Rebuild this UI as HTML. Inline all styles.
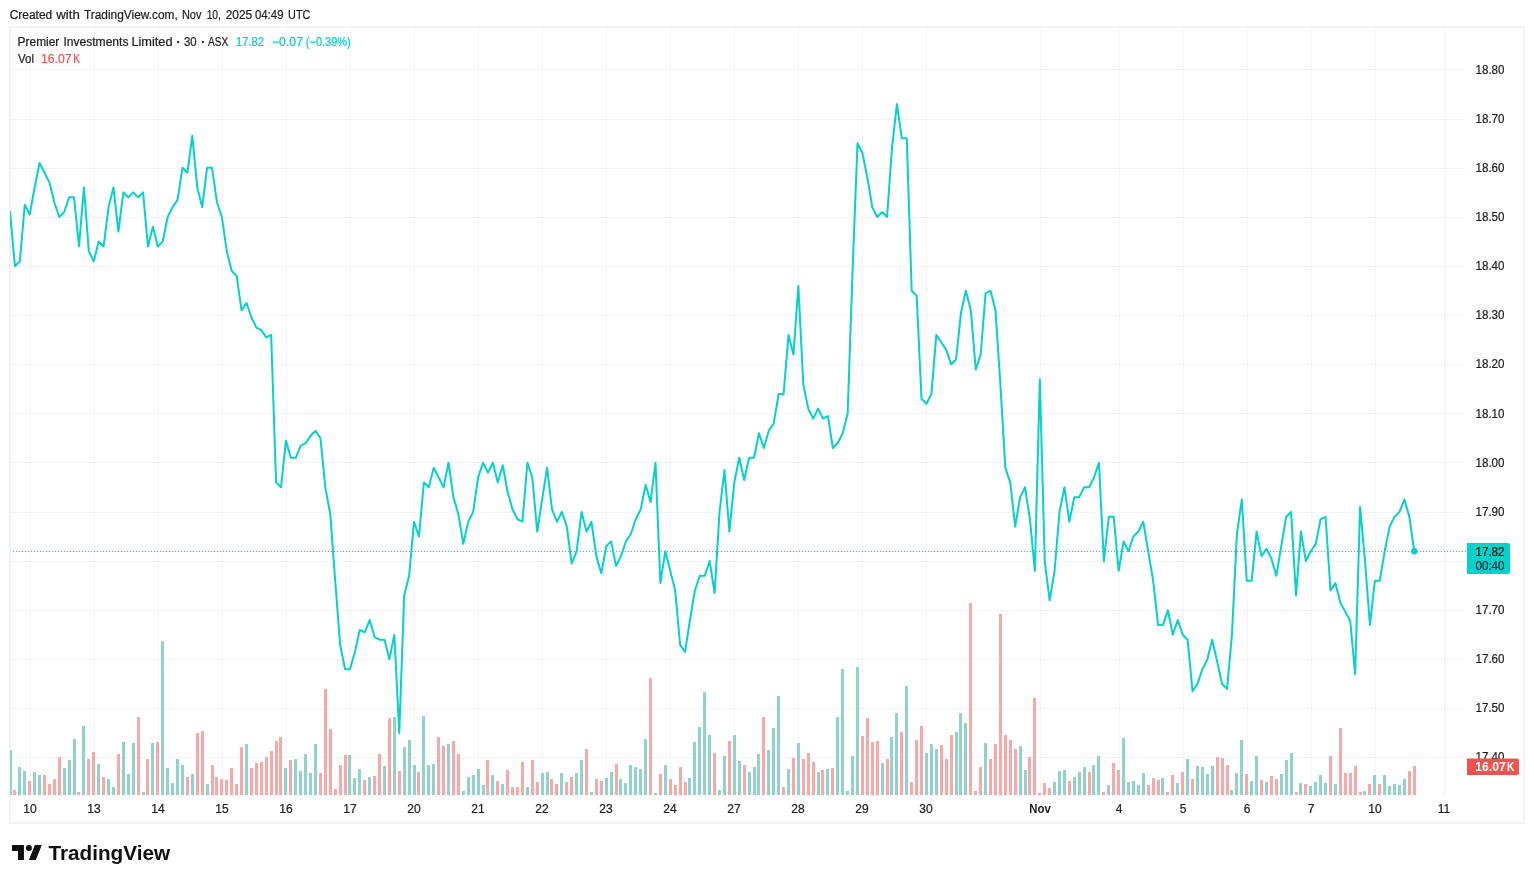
<!DOCTYPE html>
<html lang="en"><head><meta charset="utf-8"><title>Premier Investments Limited chart</title>
<style>html,body{margin:0;padding:0;background:#fff}body{width:1534px;height:883px;overflow:hidden;position:relative;font-family:"Liberation Sans",sans-serif}svg{position:absolute;left:0;top:0;display:block}text{font-family:"Liberation Sans",sans-serif;font-size:12px;color:#1e1e1e;fill:currentColor;stroke:currentColor;stroke-width:.22px}.ns{stroke:none}</style>
</head><body>
<svg width="1534" height="883" viewBox="0 0 1534 883">
<defs><clipPath id="pane"><rect x="10" y="28" width="1456" height="767"/></clipPath></defs>
<rect x="0" y="0" width="1534" height="883" fill="#fff"/>
<text y="18.8"><tspan x="9.7" textLength="42.5" lengthAdjust="spacingAndGlyphs">Created</tspan> <tspan x="56.3" textLength="23.5" lengthAdjust="spacingAndGlyphs">with</tspan> <tspan x="83.9" textLength="93.9" lengthAdjust="spacingAndGlyphs">TradingView.com,</tspan> <tspan x="181.9" textLength="19.5" lengthAdjust="spacingAndGlyphs">Nov</tspan> <tspan x="206.7" textLength="14.2" lengthAdjust="spacingAndGlyphs">10,</tspan> <tspan x="225.7" textLength="26.5" lengthAdjust="spacingAndGlyphs">2025</tspan> <tspan x="254.9" textLength="28.6" lengthAdjust="spacingAndGlyphs">04:49</tspan> <tspan x="288.1" textLength="22.3" lengthAdjust="spacingAndGlyphs">UTC</tspan></text>
<g shape-rendering="crispEdges">
<rect x="10" y="27" width="1514" height="796" fill="none" stroke="#f3f3f3" stroke-width="2"/>
<rect x="10" y="69" width="1456" height="1" fill="#2e2e2e" fill-opacity=".052"/>
<rect x="10" y="119" width="1456" height="1" fill="#2e2e2e" fill-opacity=".052"/>
<rect x="10" y="168" width="1456" height="1" fill="#2e2e2e" fill-opacity=".052"/>
<rect x="10" y="217" width="1456" height="1" fill="#2e2e2e" fill-opacity=".052"/>
<rect x="10" y="266" width="1456" height="1" fill="#2e2e2e" fill-opacity=".052"/>
<rect x="10" y="315" width="1456" height="1" fill="#2e2e2e" fill-opacity=".052"/>
<rect x="10" y="364" width="1456" height="1" fill="#2e2e2e" fill-opacity=".052"/>
<rect x="10" y="413" width="1456" height="1" fill="#2e2e2e" fill-opacity=".052"/>
<rect x="10" y="462" width="1456" height="1" fill="#2e2e2e" fill-opacity=".052"/>
<rect x="10" y="512" width="1456" height="1" fill="#2e2e2e" fill-opacity=".052"/>
<rect x="10" y="561" width="1456" height="1" fill="#2e2e2e" fill-opacity=".052"/>
<rect x="10" y="610" width="1456" height="1" fill="#2e2e2e" fill-opacity=".052"/>
<rect x="10" y="659" width="1456" height="1" fill="#2e2e2e" fill-opacity=".052"/>
<rect x="10" y="708" width="1456" height="1" fill="#2e2e2e" fill-opacity=".052"/>
<rect x="10" y="757" width="1456" height="1" fill="#2e2e2e" fill-opacity=".052"/>
<rect x="30" y="28" width="1" height="767" fill="#2e2e2e" fill-opacity=".052"/>
<rect x="94" y="28" width="1" height="767" fill="#2e2e2e" fill-opacity=".052"/>
<rect x="158" y="28" width="1" height="767" fill="#2e2e2e" fill-opacity=".052"/>
<rect x="222" y="28" width="1" height="767" fill="#2e2e2e" fill-opacity=".052"/>
<rect x="286" y="28" width="1" height="767" fill="#2e2e2e" fill-opacity=".052"/>
<rect x="350" y="28" width="1" height="767" fill="#2e2e2e" fill-opacity=".052"/>
<rect x="414" y="28" width="1" height="767" fill="#2e2e2e" fill-opacity=".052"/>
<rect x="478" y="28" width="1" height="767" fill="#2e2e2e" fill-opacity=".052"/>
<rect x="542" y="28" width="1" height="767" fill="#2e2e2e" fill-opacity=".052"/>
<rect x="606" y="28" width="1" height="767" fill="#2e2e2e" fill-opacity=".052"/>
<rect x="670" y="28" width="1" height="767" fill="#2e2e2e" fill-opacity=".052"/>
<rect x="734" y="28" width="1" height="767" fill="#2e2e2e" fill-opacity=".052"/>
<rect x="798" y="28" width="1" height="767" fill="#2e2e2e" fill-opacity=".052"/>
<rect x="862" y="28" width="1" height="767" fill="#2e2e2e" fill-opacity=".052"/>
<rect x="926" y="28" width="1" height="767" fill="#2e2e2e" fill-opacity=".052"/>
<rect x="1040" y="28" width="1" height="767" fill="#2e2e2e" fill-opacity=".052"/>
<rect x="1119" y="28" width="1" height="767" fill="#2e2e2e" fill-opacity=".052"/>
<rect x="1183" y="28" width="1" height="767" fill="#2e2e2e" fill-opacity=".052"/>
<rect x="1247" y="28" width="1" height="767" fill="#2e2e2e" fill-opacity=".052"/>
<rect x="1311" y="28" width="1" height="767" fill="#2e2e2e" fill-opacity=".052"/>
<rect x="1375" y="28" width="1" height="767" fill="#2e2e2e" fill-opacity=".052"/>
<rect x="1444" y="28" width="1" height="767" fill="#2e2e2e" fill-opacity=".052"/>
</g>
<g shape-rendering="crispEdges" clip-path="url(#pane)">
<path d="M9 750h3v45h-3zM18 767h3v28h-3zM23 771h3v24h-3zM33 772h3v23h-3zM38 775h3v20h-3zM63 768h3v27h-3zM68 760h3v35h-3zM73 739h3v56h-3zM82 726h3v69h-3zM97 764h3v31h-3zM107 779h3v16h-3zM112 787h3v8h-3zM122 742h3v53h-3zM127 774h3v21h-3zM132 743h3v52h-3zM142 792h3v3h-3zM151 743h3v52h-3zM161 641h3v154h-3zM166 768h3v27h-3zM171 783h3v12h-3zM176 759h3v36h-3zM181 765h3v30h-3zM191 774h3v21h-3zM206 784h3v11h-3zM245 744h3v51h-3zM284 768h3v27h-3zM294 759h3v36h-3zM299 771h3v24h-3zM304 754h3v41h-3zM309 773h3v22h-3zM314 744h3v51h-3zM348 755h3v40h-3zM353 778h3v17h-3zM358 769h3v26h-3zM368 777h3v18h-3zM383 766h3v29h-3zM393 717h3v78h-3zM403 747h3v48h-3zM408 740h3v55h-3zM413 765h3v30h-3zM422 716h3v79h-3zM427 765h3v30h-3zM432 764h3v31h-3zM447 744h3v51h-3zM462 791h3v4h-3zM467 777h3v18h-3zM472 775h3v20h-3zM477 769h3v26h-3zM482 785h3v10h-3zM491 775h3v20h-3zM501 784h3v11h-3zM526 787h3v8h-3zM541 773h3v22h-3zM546 772h3v23h-3zM560 773h3v22h-3zM575 773h3v22h-3zM580 760h3v35h-3zM590 792h3v3h-3zM605 778h3v17h-3zM610 772h3v23h-3zM619 779h3v16h-3zM624 783h3v12h-3zM629 765h3v30h-3zM634 767h3v28h-3zM639 769h3v26h-3zM644 739h3v56h-3zM654 793h3v2h-3zM664 765h3v30h-3zM688 778h3v17h-3zM693 742h3v53h-3zM698 727h3v68h-3zM703 692h3v103h-3zM708 735h3v60h-3zM718 790h3v5h-3zM723 756h3v39h-3zM733 735h3v60h-3zM738 761h3v34h-3zM748 772h3v23h-3zM753 767h3v28h-3zM757 754h3v41h-3zM767 750h3v45h-3zM772 728h3v67h-3zM777 696h3v99h-3zM787 769h3v26h-3zM797 743h3v52h-3zM817 772h3v23h-3zM826 769h3v26h-3zM836 717h3v78h-3zM841 669h3v126h-3zM846 791h3v4h-3zM851 756h3v39h-3zM856 667h3v128h-3zM881 763h3v32h-3zM890 737h3v58h-3zM895 713h3v82h-3zM905 686h3v109h-3zM925 753h3v42h-3zM930 744h3v51h-3zM935 749h3v46h-3zM955 732h3v63h-3zM959 713h3v82h-3zM964 723h3v72h-3zM984 743h3v52h-3zM1019 746h3v49h-3zM1024 770h3v25h-3zM1053 782h3v13h-3zM1058 771h3v24h-3zM1063 770h3v25h-3zM1073 777h3v18h-3zM1078 772h3v23h-3zM1083 767h3v28h-3zM1092 765h3v30h-3zM1097 756h3v39h-3zM1107 785h3v10h-3zM1122 738h3v57h-3zM1127 782h3v13h-3zM1132 781h3v14h-3zM1137 785h3v10h-3zM1142 773h3v22h-3zM1161 778h3v17h-3zM1176 783h3v12h-3zM1186 759h3v36h-3zM1196 766h3v29h-3zM1201 767h3v28h-3zM1206 774h3v21h-3zM1211 766h3v29h-3zM1230 790h3v5h-3zM1235 773h3v22h-3zM1240 740h3v55h-3zM1250 781h3v14h-3zM1255 756h3v39h-3zM1265 782h3v13h-3zM1280 774h3v21h-3zM1285 760h3v35h-3zM1290 753h3v42h-3zM1299 783h3v12h-3zM1309 786h3v9h-3zM1314 782h3v13h-3zM1319 775h3v20h-3zM1324 783h3v12h-3zM1334 784h3v11h-3zM1363 791h3v4h-3zM1373 775h3v20h-3zM1383 775h3v20h-3zM1388 786h3v9h-3zM1393 784h3v11h-3zM1398 785h3v10h-3zM1403 779h3v16h-3z" fill="#92d2cc"/>
<path d="M13 790h3v5h-3zM28 781h3v14h-3zM43 775h3v20h-3zM48 784h3v11h-3zM53 779h3v16h-3zM58 757h3v38h-3zM77 792h3v3h-3zM87 759h3v36h-3zM92 752h3v43h-3zM102 777h3v18h-3zM117 754h3v41h-3zM137 717h3v78h-3zM146 759h3v36h-3zM156 742h3v53h-3zM186 777h3v18h-3zM196 733h3v62h-3zM201 731h3v64h-3zM211 765h3v30h-3zM215 777h3v18h-3zM220 779h3v16h-3zM225 780h3v15h-3zM230 768h3v27h-3zM235 784h3v11h-3zM240 747h3v48h-3zM250 768h3v27h-3zM255 763h3v32h-3zM260 762h3v33h-3zM265 757h3v38h-3zM270 751h3v44h-3zM275 741h3v54h-3zM279 737h3v58h-3zM289 760h3v35h-3zM319 773h3v22h-3zM324 689h3v106h-3zM329 729h3v66h-3zM334 789h3v6h-3zM339 765h3v30h-3zM344 755h3v40h-3zM363 780h3v15h-3zM373 776h3v19h-3zM378 754h3v41h-3zM388 718h3v77h-3zM398 771h3v24h-3zM417 772h3v23h-3zM437 737h3v58h-3zM442 746h3v49h-3zM452 741h3v54h-3zM457 754h3v41h-3zM486 760h3v35h-3zM496 781h3v14h-3zM506 770h3v25h-3zM511 787h3v8h-3zM516 787h3v8h-3zM521 762h3v33h-3zM531 760h3v35h-3zM536 782h3v13h-3zM550 779h3v16h-3zM555 784h3v11h-3zM565 782h3v13h-3zM570 777h3v18h-3zM585 749h3v46h-3zM595 779h3v16h-3zM600 781h3v14h-3zM615 764h3v31h-3zM649 678h3v117h-3zM659 774h3v21h-3zM669 779h3v16h-3zM674 785h3v10h-3zM679 767h3v28h-3zM684 782h3v13h-3zM713 753h3v42h-3zM728 741h3v54h-3zM743 765h3v30h-3zM762 717h3v78h-3zM782 787h3v8h-3zM792 758h3v37h-3zM802 759h3v36h-3zM807 753h3v42h-3zM812 762h3v33h-3zM821 770h3v25h-3zM831 768h3v27h-3zM861 736h3v59h-3zM866 718h3v77h-3zM871 742h3v53h-3zM876 741h3v54h-3zM886 759h3v36h-3zM900 732h3v63h-3zM910 782h3v13h-3zM915 740h3v55h-3zM920 726h3v69h-3zM940 745h3v50h-3zM945 759h3v36h-3zM950 735h3v60h-3zM969 603h3v192h-3zM974 791h3v4h-3zM979 767h3v28h-3zM989 759h3v36h-3zM994 744h3v51h-3zM999 614h3v181h-3zM1004 735h3v60h-3zM1009 740h3v55h-3zM1014 749h3v46h-3zM1028 757h3v38h-3zM1033 698h3v97h-3zM1038 793h3v2h-3zM1043 783h3v12h-3zM1048 788h3v7h-3zM1068 781h3v14h-3zM1088 772h3v23h-3zM1102 792h3v3h-3zM1112 763h3v32h-3zM1117 770h3v25h-3zM1147 785h3v10h-3zM1152 778h3v17h-3zM1157 780h3v15h-3zM1166 792h3v3h-3zM1171 775h3v20h-3zM1181 772h3v23h-3zM1191 779h3v16h-3zM1216 757h3v38h-3zM1221 758h3v37h-3zM1226 765h3v30h-3zM1245 774h3v21h-3zM1260 780h3v15h-3zM1270 776h3v19h-3zM1275 779h3v16h-3zM1295 792h3v3h-3zM1304 784h3v11h-3zM1329 756h3v39h-3zM1339 728h3v67h-3zM1344 773h3v22h-3zM1349 773h3v22h-3zM1354 766h3v29h-3zM1359 792h3v3h-3zM1368 784h3v11h-3zM1378 784h3v11h-3zM1408 771h3v24h-3zM1413 766h3v29h-3z" fill="#f7a9a7"/>
</g>
<path shape-rendering="crispEdges" d="M13 551h1v1h-1zM16 551h1v1h-1zM19 551h1v1h-1zM22 551h1v1h-1zM25 551h1v1h-1zM28 551h1v1h-1zM31 551h1v1h-1zM34 551h1v1h-1zM37 551h1v1h-1zM40 551h1v1h-1zM43 551h1v1h-1zM46 551h1v1h-1zM49 551h1v1h-1zM52 551h1v1h-1zM55 551h1v1h-1zM58 551h1v1h-1zM61 551h1v1h-1zM64 551h1v1h-1zM67 551h1v1h-1zM70 551h1v1h-1zM73 551h1v1h-1zM76 551h1v1h-1zM79 551h1v1h-1zM82 551h1v1h-1zM85 551h1v1h-1zM88 551h1v1h-1zM91 551h1v1h-1zM94 551h1v1h-1zM97 551h1v1h-1zM100 551h1v1h-1zM103 551h1v1h-1zM106 551h1v1h-1zM109 551h1v1h-1zM112 551h1v1h-1zM115 551h1v1h-1zM118 551h1v1h-1zM121 551h1v1h-1zM124 551h1v1h-1zM127 551h1v1h-1zM130 551h1v1h-1zM133 551h1v1h-1zM136 551h1v1h-1zM139 551h1v1h-1zM142 551h1v1h-1zM145 551h1v1h-1zM148 551h1v1h-1zM151 551h1v1h-1zM154 551h1v1h-1zM157 551h1v1h-1zM160 551h1v1h-1zM163 551h1v1h-1zM166 551h1v1h-1zM169 551h1v1h-1zM172 551h1v1h-1zM175 551h1v1h-1zM178 551h1v1h-1zM181 551h1v1h-1zM184 551h1v1h-1zM187 551h1v1h-1zM190 551h1v1h-1zM193 551h1v1h-1zM196 551h1v1h-1zM199 551h1v1h-1zM202 551h1v1h-1zM205 551h1v1h-1zM208 551h1v1h-1zM211 551h1v1h-1zM214 551h1v1h-1zM217 551h1v1h-1zM220 551h1v1h-1zM223 551h1v1h-1zM226 551h1v1h-1zM229 551h1v1h-1zM232 551h1v1h-1zM235 551h1v1h-1zM238 551h1v1h-1zM241 551h1v1h-1zM244 551h1v1h-1zM247 551h1v1h-1zM250 551h1v1h-1zM253 551h1v1h-1zM256 551h1v1h-1zM259 551h1v1h-1zM262 551h1v1h-1zM265 551h1v1h-1zM268 551h1v1h-1zM271 551h1v1h-1zM274 551h1v1h-1zM277 551h1v1h-1zM280 551h1v1h-1zM283 551h1v1h-1zM286 551h1v1h-1zM289 551h1v1h-1zM292 551h1v1h-1zM295 551h1v1h-1zM298 551h1v1h-1zM301 551h1v1h-1zM304 551h1v1h-1zM307 551h1v1h-1zM310 551h1v1h-1zM313 551h1v1h-1zM316 551h1v1h-1zM319 551h1v1h-1zM322 551h1v1h-1zM325 551h1v1h-1zM328 551h1v1h-1zM331 551h1v1h-1zM334 551h1v1h-1zM337 551h1v1h-1zM340 551h1v1h-1zM343 551h1v1h-1zM346 551h1v1h-1zM349 551h1v1h-1zM352 551h1v1h-1zM355 551h1v1h-1zM358 551h1v1h-1zM361 551h1v1h-1zM364 551h1v1h-1zM367 551h1v1h-1zM370 551h1v1h-1zM373 551h1v1h-1zM376 551h1v1h-1zM379 551h1v1h-1zM382 551h1v1h-1zM385 551h1v1h-1zM388 551h1v1h-1zM391 551h1v1h-1zM394 551h1v1h-1zM397 551h1v1h-1zM400 551h1v1h-1zM403 551h1v1h-1zM406 551h1v1h-1zM409 551h1v1h-1zM412 551h1v1h-1zM415 551h1v1h-1zM418 551h1v1h-1zM421 551h1v1h-1zM424 551h1v1h-1zM427 551h1v1h-1zM430 551h1v1h-1zM433 551h1v1h-1zM436 551h1v1h-1zM439 551h1v1h-1zM442 551h1v1h-1zM445 551h1v1h-1zM448 551h1v1h-1zM451 551h1v1h-1zM454 551h1v1h-1zM457 551h1v1h-1zM460 551h1v1h-1zM463 551h1v1h-1zM466 551h1v1h-1zM469 551h1v1h-1zM472 551h1v1h-1zM475 551h1v1h-1zM478 551h1v1h-1zM481 551h1v1h-1zM484 551h1v1h-1zM487 551h1v1h-1zM490 551h1v1h-1zM493 551h1v1h-1zM496 551h1v1h-1zM499 551h1v1h-1zM502 551h1v1h-1zM505 551h1v1h-1zM508 551h1v1h-1zM511 551h1v1h-1zM514 551h1v1h-1zM517 551h1v1h-1zM520 551h1v1h-1zM523 551h1v1h-1zM526 551h1v1h-1zM529 551h1v1h-1zM532 551h1v1h-1zM535 551h1v1h-1zM538 551h1v1h-1zM541 551h1v1h-1zM544 551h1v1h-1zM547 551h1v1h-1zM550 551h1v1h-1zM553 551h1v1h-1zM556 551h1v1h-1zM559 551h1v1h-1zM562 551h1v1h-1zM565 551h1v1h-1zM568 551h1v1h-1zM571 551h1v1h-1zM574 551h1v1h-1zM577 551h1v1h-1zM580 551h1v1h-1zM583 551h1v1h-1zM586 551h1v1h-1zM589 551h1v1h-1zM592 551h1v1h-1zM595 551h1v1h-1zM598 551h1v1h-1zM601 551h1v1h-1zM604 551h1v1h-1zM607 551h1v1h-1zM610 551h1v1h-1zM613 551h1v1h-1zM616 551h1v1h-1zM619 551h1v1h-1zM622 551h1v1h-1zM625 551h1v1h-1zM628 551h1v1h-1zM631 551h1v1h-1zM634 551h1v1h-1zM637 551h1v1h-1zM640 551h1v1h-1zM643 551h1v1h-1zM646 551h1v1h-1zM649 551h1v1h-1zM652 551h1v1h-1zM655 551h1v1h-1zM658 551h1v1h-1zM661 551h1v1h-1zM664 551h1v1h-1zM667 551h1v1h-1zM670 551h1v1h-1zM673 551h1v1h-1zM676 551h1v1h-1zM679 551h1v1h-1zM682 551h1v1h-1zM685 551h1v1h-1zM688 551h1v1h-1zM691 551h1v1h-1zM694 551h1v1h-1zM697 551h1v1h-1zM700 551h1v1h-1zM703 551h1v1h-1zM706 551h1v1h-1zM709 551h1v1h-1zM712 551h1v1h-1zM715 551h1v1h-1zM718 551h1v1h-1zM721 551h1v1h-1zM724 551h1v1h-1zM727 551h1v1h-1zM730 551h1v1h-1zM733 551h1v1h-1zM736 551h1v1h-1zM739 551h1v1h-1zM742 551h1v1h-1zM745 551h1v1h-1zM748 551h1v1h-1zM751 551h1v1h-1zM754 551h1v1h-1zM757 551h1v1h-1zM760 551h1v1h-1zM763 551h1v1h-1zM766 551h1v1h-1zM769 551h1v1h-1zM772 551h1v1h-1zM775 551h1v1h-1zM778 551h1v1h-1zM781 551h1v1h-1zM784 551h1v1h-1zM787 551h1v1h-1zM790 551h1v1h-1zM793 551h1v1h-1zM796 551h1v1h-1zM799 551h1v1h-1zM802 551h1v1h-1zM805 551h1v1h-1zM808 551h1v1h-1zM811 551h1v1h-1zM814 551h1v1h-1zM817 551h1v1h-1zM820 551h1v1h-1zM823 551h1v1h-1zM826 551h1v1h-1zM829 551h1v1h-1zM832 551h1v1h-1zM835 551h1v1h-1zM838 551h1v1h-1zM841 551h1v1h-1zM844 551h1v1h-1zM847 551h1v1h-1zM850 551h1v1h-1zM853 551h1v1h-1zM856 551h1v1h-1zM859 551h1v1h-1zM862 551h1v1h-1zM865 551h1v1h-1zM868 551h1v1h-1zM871 551h1v1h-1zM874 551h1v1h-1zM877 551h1v1h-1zM880 551h1v1h-1zM883 551h1v1h-1zM886 551h1v1h-1zM889 551h1v1h-1zM892 551h1v1h-1zM895 551h1v1h-1zM898 551h1v1h-1zM901 551h1v1h-1zM904 551h1v1h-1zM907 551h1v1h-1zM910 551h1v1h-1zM913 551h1v1h-1zM916 551h1v1h-1zM919 551h1v1h-1zM922 551h1v1h-1zM925 551h1v1h-1zM928 551h1v1h-1zM931 551h1v1h-1zM934 551h1v1h-1zM937 551h1v1h-1zM940 551h1v1h-1zM943 551h1v1h-1zM946 551h1v1h-1zM949 551h1v1h-1zM952 551h1v1h-1zM955 551h1v1h-1zM958 551h1v1h-1zM961 551h1v1h-1zM964 551h1v1h-1zM967 551h1v1h-1zM970 551h1v1h-1zM973 551h1v1h-1zM976 551h1v1h-1zM979 551h1v1h-1zM982 551h1v1h-1zM985 551h1v1h-1zM988 551h1v1h-1zM991 551h1v1h-1zM994 551h1v1h-1zM997 551h1v1h-1zM1000 551h1v1h-1zM1003 551h1v1h-1zM1006 551h1v1h-1zM1009 551h1v1h-1zM1012 551h1v1h-1zM1015 551h1v1h-1zM1018 551h1v1h-1zM1021 551h1v1h-1zM1024 551h1v1h-1zM1027 551h1v1h-1zM1030 551h1v1h-1zM1033 551h1v1h-1zM1036 551h1v1h-1zM1039 551h1v1h-1zM1042 551h1v1h-1zM1045 551h1v1h-1zM1048 551h1v1h-1zM1051 551h1v1h-1zM1054 551h1v1h-1zM1057 551h1v1h-1zM1060 551h1v1h-1zM1063 551h1v1h-1zM1066 551h1v1h-1zM1069 551h1v1h-1zM1072 551h1v1h-1zM1075 551h1v1h-1zM1078 551h1v1h-1zM1081 551h1v1h-1zM1084 551h1v1h-1zM1087 551h1v1h-1zM1090 551h1v1h-1zM1093 551h1v1h-1zM1096 551h1v1h-1zM1099 551h1v1h-1zM1102 551h1v1h-1zM1105 551h1v1h-1zM1108 551h1v1h-1zM1111 551h1v1h-1zM1114 551h1v1h-1zM1117 551h1v1h-1zM1120 551h1v1h-1zM1123 551h1v1h-1zM1126 551h1v1h-1zM1129 551h1v1h-1zM1132 551h1v1h-1zM1135 551h1v1h-1zM1138 551h1v1h-1zM1141 551h1v1h-1zM1144 551h1v1h-1zM1147 551h1v1h-1zM1150 551h1v1h-1zM1153 551h1v1h-1zM1156 551h1v1h-1zM1159 551h1v1h-1zM1162 551h1v1h-1zM1165 551h1v1h-1zM1168 551h1v1h-1zM1171 551h1v1h-1zM1174 551h1v1h-1zM1177 551h1v1h-1zM1180 551h1v1h-1zM1183 551h1v1h-1zM1186 551h1v1h-1zM1189 551h1v1h-1zM1192 551h1v1h-1zM1195 551h1v1h-1zM1198 551h1v1h-1zM1201 551h1v1h-1zM1204 551h1v1h-1zM1207 551h1v1h-1zM1210 551h1v1h-1zM1213 551h1v1h-1zM1216 551h1v1h-1zM1219 551h1v1h-1zM1222 551h1v1h-1zM1225 551h1v1h-1zM1228 551h1v1h-1zM1231 551h1v1h-1zM1234 551h1v1h-1zM1237 551h1v1h-1zM1240 551h1v1h-1zM1243 551h1v1h-1zM1246 551h1v1h-1zM1249 551h1v1h-1zM1252 551h1v1h-1zM1255 551h1v1h-1zM1258 551h1v1h-1zM1261 551h1v1h-1zM1264 551h1v1h-1zM1267 551h1v1h-1zM1270 551h1v1h-1zM1273 551h1v1h-1zM1276 551h1v1h-1zM1279 551h1v1h-1zM1282 551h1v1h-1zM1285 551h1v1h-1zM1288 551h1v1h-1zM1291 551h1v1h-1zM1294 551h1v1h-1zM1297 551h1v1h-1zM1300 551h1v1h-1zM1303 551h1v1h-1zM1306 551h1v1h-1zM1309 551h1v1h-1zM1312 551h1v1h-1zM1315 551h1v1h-1zM1318 551h1v1h-1zM1321 551h1v1h-1zM1324 551h1v1h-1zM1327 551h1v1h-1zM1330 551h1v1h-1zM1333 551h1v1h-1zM1336 551h1v1h-1zM1339 551h1v1h-1zM1342 551h1v1h-1zM1345 551h1v1h-1zM1348 551h1v1h-1zM1351 551h1v1h-1zM1354 551h1v1h-1zM1357 551h1v1h-1zM1360 551h1v1h-1zM1363 551h1v1h-1zM1366 551h1v1h-1zM1369 551h1v1h-1zM1372 551h1v1h-1zM1375 551h1v1h-1zM1378 551h1v1h-1zM1381 551h1v1h-1zM1384 551h1v1h-1zM1387 551h1v1h-1zM1390 551h1v1h-1zM1393 551h1v1h-1zM1396 551h1v1h-1zM1399 551h1v1h-1zM1402 551h1v1h-1zM1405 551h1v1h-1zM1408 551h1v1h-1zM1411 551h1v1h-1zM1414 551h1v1h-1zM1417 551h1v1h-1zM1420 551h1v1h-1zM1423 551h1v1h-1zM1426 551h1v1h-1zM1429 551h1v1h-1zM1432 551h1v1h-1zM1435 551h1v1h-1zM1438 551h1v1h-1zM1441 551h1v1h-1zM1444 551h1v1h-1zM1447 551h1v1h-1zM1450 551h1v1h-1zM1453 551h1v1h-1zM1456 551h1v1h-1zM1459 551h1v1h-1zM1462 551h1v1h-1zM1465 551h1v1h-1z" fill="#06d1cb"/>
<polyline clip-path="url(#pane)" points="10.00,212.05 14.93,266.12 19.85,261.20 24.78,204.67 29.71,214.50 34.64,187.47 39.56,162.89 44.49,172.72 49.42,182.55 54.35,202.22 59.27,216.96 64.20,212.05 69.13,197.30 74.05,197.30 78.98,246.45 83.91,187.47 88.84,251.37 93.76,261.20 98.69,241.54 103.62,246.45 108.55,207.13 113.47,187.47 118.40,231.71 123.33,192.38 128.25,197.30 133.18,192.38 138.11,197.30 143.04,192.38 147.96,246.45 152.89,226.79 157.82,246.45 162.75,241.54 167.67,216.96 172.60,207.13 177.53,199.76 182.45,167.81 187.38,172.72 192.31,135.86 197.24,187.47 202.16,207.13 207.09,167.81 212.02,167.81 216.95,202.22 221.87,216.96 226.80,251.37 231.73,271.03 236.65,275.95 241.58,310.35 246.51,302.98 251.44,317.24 256.36,327.56 261.29,330.02 266.22,337.39 271.15,334.93 276.07,482.39 281.00,487.31 285.93,440.61 290.85,457.82 295.78,457.82 300.71,445.53 305.64,443.07 310.56,435.70 315.49,430.78 320.42,438.16 325.35,487.31 330.27,514.34 335.20,580.70 340.13,644.60 345.05,669.18 349.98,669.18 354.91,651.97 359.84,629.86 364.76,632.31 369.69,620.02 374.62,637.23 379.55,639.69 384.47,639.69 389.40,659.35 394.33,634.77 399.25,733.08 404.18,595.45 409.11,575.79 414.04,521.72 418.96,536.46 423.89,482.39 428.82,487.31 433.75,467.65 438.67,477.48 443.60,487.31 448.53,462.73 453.45,497.14 458.38,514.34 463.31,543.84 468.24,521.72 473.16,511.89 478.09,477.48 483.02,462.73 487.95,472.56 492.87,462.73 497.80,482.39 502.73,465.19 507.65,492.22 512.58,509.43 517.51,519.26 522.44,521.72 527.36,462.73 532.29,477.48 537.22,531.55 542.15,499.60 547.07,467.65 552.00,509.43 556.93,521.72 561.85,511.89 566.78,526.63 571.71,563.50 576.64,551.21 581.56,511.89 586.49,531.55 591.42,521.72 596.35,556.12 601.27,573.33 606.20,546.29 611.13,541.38 616.05,565.96 620.98,556.12 625.91,541.38 630.84,534.01 635.76,519.26 640.69,509.43 645.62,484.85 650.55,502.06 655.47,462.73 660.40,583.16 665.33,551.21 670.25,570.87 675.18,590.53 680.11,644.60 685.04,651.97 689.96,620.02 694.89,590.53 699.82,575.79 704.75,575.79 709.67,561.04 714.60,592.99 719.53,511.89 724.45,470.11 729.38,531.55 734.31,482.39 739.24,457.82 744.16,479.94 749.09,457.82 754.02,457.82 758.95,433.24 763.87,447.99 768.80,430.78 773.73,423.41 778.65,393.92 783.58,393.92 788.51,334.93 793.44,354.59 798.36,285.78 803.29,384.09 808.22,408.66 813.15,418.49 818.07,408.66 823.00,418.49 827.93,416.04 832.85,447.99 837.78,443.07 842.71,433.24 847.64,413.58 852.56,271.03 857.49,143.23 862.42,153.06 867.34,177.64 872.27,207.13 877.20,216.96 882.13,212.05 887.05,216.96 891.98,148.15 896.91,103.91 901.84,138.32 906.76,138.32 911.69,290.69 916.62,295.61 921.54,398.83 926.47,403.75 931.40,393.92 936.33,334.93 941.25,342.30 946.18,349.68 951.11,364.42 956.04,359.51 960.96,312.81 965.89,290.69 970.82,310.35 975.74,369.34 980.67,354.59 985.60,293.15 990.53,290.69 995.45,310.35 1000.38,384.09 1005.31,467.65 1010.24,482.39 1015.16,526.63 1020.09,497.14 1025.02,487.31 1029.94,519.26 1034.87,570.87 1039.80,379.17 1044.73,561.04 1049.65,600.36 1054.58,570.87 1059.51,511.89 1064.44,487.31 1069.36,521.72 1074.29,497.14 1079.22,497.14 1084.14,487.31 1089.07,487.31 1094.00,477.48 1098.93,462.73 1103.85,561.04 1108.78,516.80 1113.71,516.80 1118.64,570.87 1123.56,541.38 1128.49,551.21 1133.42,536.46 1138.34,531.55 1143.27,521.72 1148.20,551.21 1153.13,580.70 1158.05,624.94 1162.98,624.94 1167.91,610.19 1172.84,634.77 1177.76,620.02 1182.69,634.77 1187.62,639.69 1192.54,691.30 1197.47,683.93 1202.40,669.18 1207.33,659.35 1212.25,639.69 1217.18,661.81 1222.11,683.93 1227.04,688.84 1231.96,634.77 1236.89,534.01 1241.82,499.60 1246.74,580.70 1251.67,580.70 1256.60,531.55 1261.53,556.12 1266.45,548.75 1271.38,558.58 1276.31,575.79 1281.24,546.29 1286.16,516.80 1291.09,511.89 1296.02,595.45 1300.94,531.55 1305.87,561.04 1310.80,551.21 1315.73,543.84 1320.65,519.26 1325.58,516.80 1330.51,590.53 1335.44,583.16 1340.36,602.82 1345.29,611.67 1350.22,621.01 1355.14,674.09 1360.07,506.97 1365.00,561.04 1369.93,624.94 1374.85,580.70 1379.78,580.70 1384.71,551.21 1389.64,526.63 1394.56,516.80 1399.49,511.89 1404.42,499.60 1409.34,516.80 1414.27,551.21" fill="none" stroke="#06d1cb" stroke-width="2" stroke-linejoin="round" stroke-linecap="round"/>
<circle cx="1414.27" cy="551.21" r="3.2" fill="#06d1cb"/>
<text y="45.7"><tspan x="17.6" textLength="41.7" lengthAdjust="spacingAndGlyphs">Premier</tspan> <tspan x="63.4" textLength="65.1" lengthAdjust="spacingAndGlyphs">Investments</tspan> <tspan x="131.4" textLength="41.2" lengthAdjust="spacingAndGlyphs">Limited</tspan> <tspan x="176.5" style="font-weight:bold">·</tspan> <tspan x="184.0" textLength="12.7" lengthAdjust="spacingAndGlyphs">30</tspan> <tspan x="201.3" style="font-weight:bold">·</tspan> <tspan x="208.0" textLength="20.2" lengthAdjust="spacingAndGlyphs">ASX</tspan></text>
<text x="236" y="45.7" style="color:#06d1cb" textLength="28" lengthAdjust="spacingAndGlyphs">17.82</text>
<text y="45.7" style="color:#06d1cb"><tspan x="271.9" textLength="31.2" lengthAdjust="spacingAndGlyphs">−0.07</tspan> <tspan x="305.8" textLength="45.0" lengthAdjust="spacingAndGlyphs">(−0.39%)</tspan></text>
<text x="18" y="62.6" textLength="16" lengthAdjust="spacingAndGlyphs">Vol</text>
<text y="62.6" style="color:#ef5350"><tspan x="41.1" textLength="30.4" lengthAdjust="spacingAndGlyphs">16.07</tspan> <tspan x="73.2" textLength="6.9" lengthAdjust="spacingAndGlyphs">K</tspan></text>
<text x="1475.5" y="73.85" textLength="29" lengthAdjust="spacingAndGlyphs">18.80</text>
<text x="1475.5" y="122.95" textLength="29" lengthAdjust="spacingAndGlyphs">18.70</text>
<text x="1475.5" y="172.05" textLength="29" lengthAdjust="spacingAndGlyphs">18.60</text>
<text x="1475.5" y="221.15" textLength="29" lengthAdjust="spacingAndGlyphs">18.50</text>
<text x="1475.5" y="270.25" textLength="29" lengthAdjust="spacingAndGlyphs">18.40</text>
<text x="1475.5" y="319.35" textLength="29" lengthAdjust="spacingAndGlyphs">18.30</text>
<text x="1475.5" y="368.45" textLength="29" lengthAdjust="spacingAndGlyphs">18.20</text>
<text x="1475.5" y="417.55" textLength="29" lengthAdjust="spacingAndGlyphs">18.10</text>
<text x="1475.5" y="466.65" textLength="29" lengthAdjust="spacingAndGlyphs">18.00</text>
<text x="1475.5" y="515.75" textLength="29" lengthAdjust="spacingAndGlyphs">17.90</text>
<text x="1475.5" y="564.85" textLength="29" lengthAdjust="spacingAndGlyphs">17.80</text>
<text x="1475.5" y="613.95" textLength="29" lengthAdjust="spacingAndGlyphs">17.70</text>
<text x="1475.5" y="663.05" textLength="29" lengthAdjust="spacingAndGlyphs">17.60</text>
<text x="1475.5" y="712.15" textLength="29" lengthAdjust="spacingAndGlyphs">17.50</text>
<text x="1475.5" y="761.25" textLength="29" lengthAdjust="spacingAndGlyphs">17.40</text>
<path d="M1467 543H1508a2 2 0 0 1 2 2V572a2 2 0 0 1 -2 2H1467z" fill="#06d1cb"/>
<text x="1475.5" y="555.8" style="color:#0b0b0b" textLength="29" lengthAdjust="spacingAndGlyphs">17.82</text>
<text x="1475.5" y="569.6" style="color:#0b0b0b;opacity:.85" textLength="29" lengthAdjust="spacingAndGlyphs">00:40</text>
<path d="M1467 758.5H1517a2 2 0 0 1 2 2V773a2 2 0 0 1 -2 2H1467z" fill="#ef5350"/>
<text y="771.0" style="color:#fff;font-weight:bold;stroke:none"><tspan x="1475.2" textLength="30.5" lengthAdjust="spacingAndGlyphs">16.07</tspan> <tspan x="1507.1" textLength="7.3" lengthAdjust="spacingAndGlyphs">K</tspan></text>
<text x="30" y="813.1" text-anchor="middle">10</text>
<text x="94" y="813.1" text-anchor="middle">13</text>
<text x="158" y="813.1" text-anchor="middle">14</text>
<text x="222" y="813.1" text-anchor="middle">15</text>
<text x="286" y="813.1" text-anchor="middle">16</text>
<text x="350" y="813.1" text-anchor="middle">17</text>
<text x="414" y="813.1" text-anchor="middle">20</text>
<text x="478" y="813.1" text-anchor="middle">21</text>
<text x="542" y="813.1" text-anchor="middle">22</text>
<text x="606" y="813.1" text-anchor="middle">23</text>
<text x="670" y="813.1" text-anchor="middle">24</text>
<text x="734" y="813.1" text-anchor="middle">27</text>
<text x="798" y="813.1" text-anchor="middle">28</text>
<text x="862" y="813.1" text-anchor="middle">29</text>
<text x="926" y="813.1" text-anchor="middle">30</text>
<text x="1040" y="813.1" text-anchor="middle" style="font-weight:bold;stroke:none" textLength="21.5" lengthAdjust="spacingAndGlyphs">Nov</text>
<text x="1119" y="813.1" text-anchor="middle">4</text>
<text x="1183" y="813.1" text-anchor="middle">5</text>
<text x="1247" y="813.1" text-anchor="middle">6</text>
<text x="1311" y="813.1" text-anchor="middle">7</text>
<text x="1375" y="813.1" text-anchor="middle">10</text>
<text x="1444" y="813.1" text-anchor="middle">11</text>
<path fill="#0f0f0f" transform="translate(10.03 839.05) scale(.993 .996)" d="M14 6H2v6h6v9h6V6zm12 15h-7l6-15h7l-6 15zm-7-9a3 3 0 1 0 0-6 3 3 0 0 0 0 6z"/>
<text x="48.5" y="859.9" style="font-weight:bold;font-size:20px;stroke:none;color:#0f0f0f" textLength="121.5" lengthAdjust="spacingAndGlyphs">TradingView</text>
</svg>
</body></html>
